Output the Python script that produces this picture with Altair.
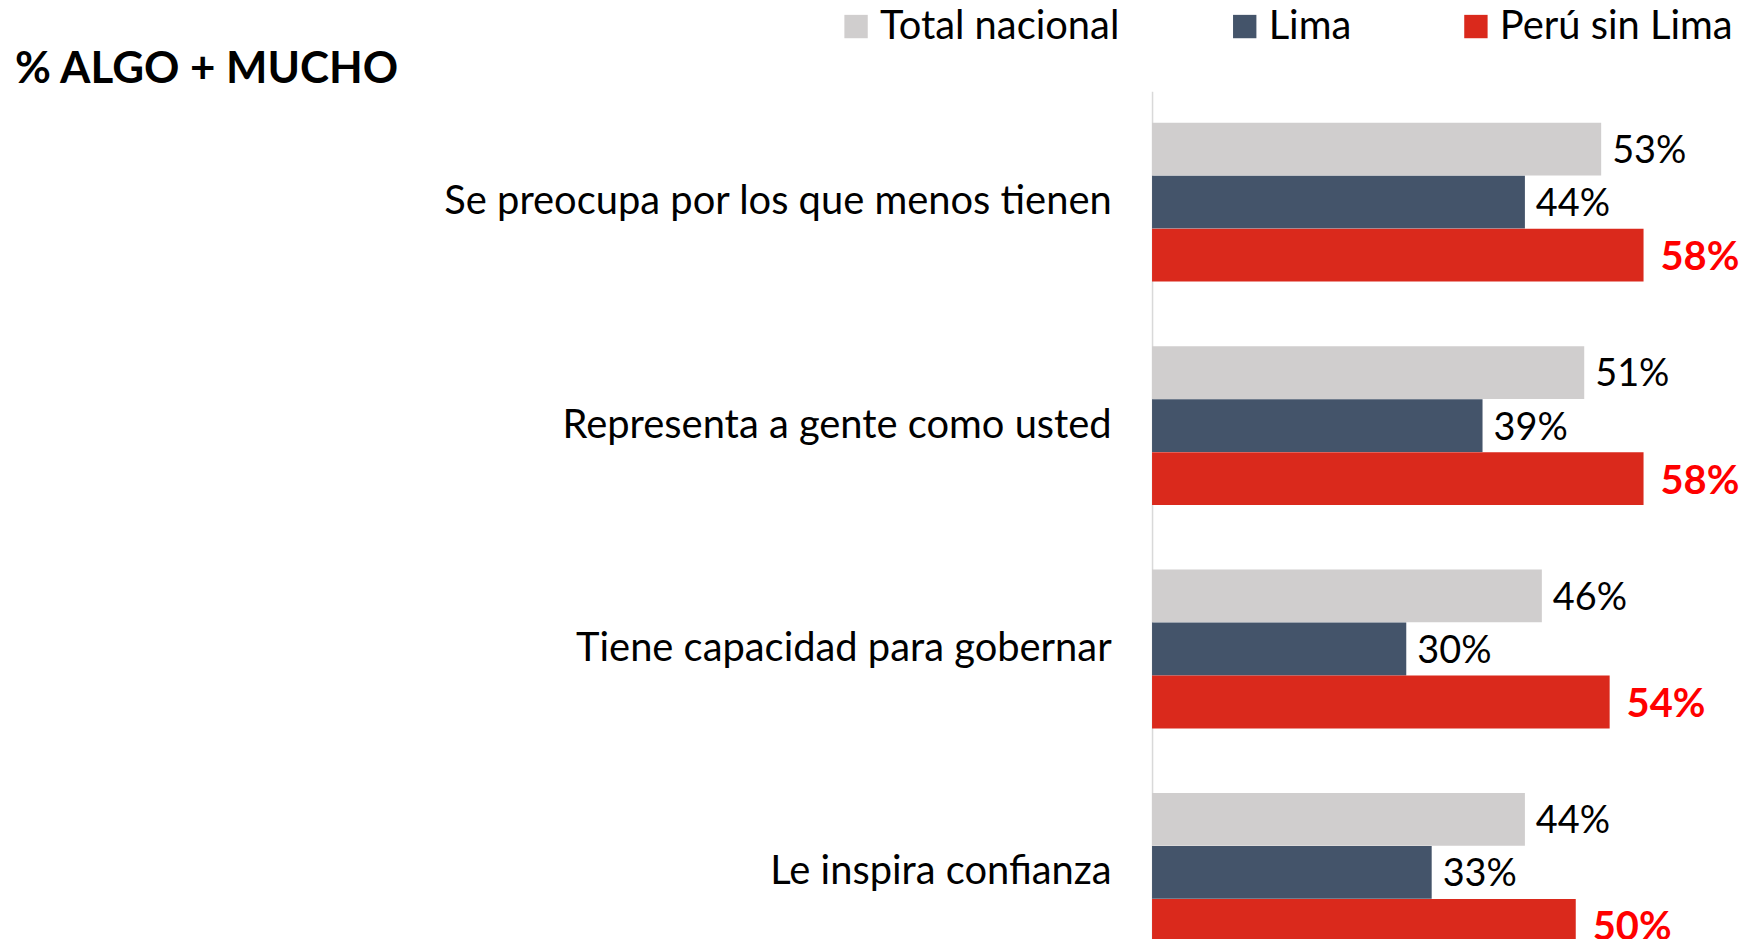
import altair as alt
import pandas as pd

categories = [
    "Se preocupa por los que menos tienen",
    "Representa a gente como usted",
    "Tiene capacidad para gobernar",
    "Le inspira confianza",
]
series = ["Total nacional", "Lima", "Perú sin Lima"]
total_nacional = [53, 51, 46, 44]
lima = [44, 39, 30, 33]
peru_sin_lima = [58, 58, 54, 50]
colors = ["#D0CECE", "#44546A", "#DA291C"]
title_text = ["% ALGO + MUCHO"]

rows = []
for i, cat in enumerate(categories):
    for s, vals in zip(series, [total_nacional, lima, peru_sin_lima]):
        rows.append({
            "categoria": cat,
            "serie": s,
            "valor": vals[i],
            "etiqueta": f"{vals[i]}%",
        })
df = pd.DataFrame(rows)

FONT = "Lato"

y_enc = alt.Y(
    "categoria:N",
    sort=categories,
    scale=alt.Scale(range=[0, 895], paddingInner=0.288, paddingOuter=0.14),
    axis=alt.Axis(
        title=None, ticks=False, labelPadding=41, labelFontSize=40,
        labelFont=FONT, labelColor="#000000", domainColor="#D9D9D9",
        domainWidth=1.5, labelLimit=1000,
    ),
)
y_off = alt.YOffset("serie:N", sort=series, scale=alt.Scale(paddingInner=0, paddingOuter=0))
x_enc = alt.X("valor:Q", scale=alt.Scale(domain=[0, 69.5], nice=False), axis=None)

base = alt.Chart(df)

bars = base.mark_bar(size=53).encode(
    x=x_enc,
    y=y_enc,
    yOffset=y_off,
    color=alt.Color(
        "serie:N", sort=series,
        scale=alt.Scale(domain=series, range=colors),
        legend=alt.Legend(
            title=None, orient="none", direction="horizontal",
            legendX=-317, legendY=-85, symbolType="square", symbolSize=550,
            symbolStrokeWidth=0, labelFontSize=40, labelFont=FONT,
            labelColor="#000000", labelOffset=4, columnPadding=105,
            labelLimit=500,
        ),
    ),
)

labels_plain = base.transform_filter(
    alt.datum.serie != "Perú sin Lima"
).mark_text(
    align="left", baseline="middle", dx=11, dy=3, fontSize=38, font=FONT, color="#000000",
).encode(x=x_enc, y=y_enc, yOffset=y_off, text="etiqueta:N")

labels_red = base.transform_filter(
    alt.datum.serie == "Perú sin Lima"
).mark_text(
    align="left", baseline="middle", dx=17, dy=3, fontSize=40, font=FONT,
    color="#FF0000", fontWeight="bold",
).encode(x=x_enc, y=y_enc, yOffset=y_off, text="etiqueta:N")

title = alt.Chart(pd.DataFrame({"t": title_text})).mark_text(
    align="left", baseline="alphabetic", fontSize=44, font=FONT,
    fontWeight="bold", color="#000000",
).encode(text="t:N", x=alt.value(-1141), y=alt.value(-8))

chart = alt.layer(bars, labels_plain, labels_red, title).properties(
    width=591,
    height=849,
    padding={"left": 1148, "top": 82, "right": 0, "bottom": 0},
    autosize=alt.AutoSizeParams(type="none"),
).configure_view(stroke=None)

chart.save("out.html", embed_options={"renderer": "svg", "actions": False})
